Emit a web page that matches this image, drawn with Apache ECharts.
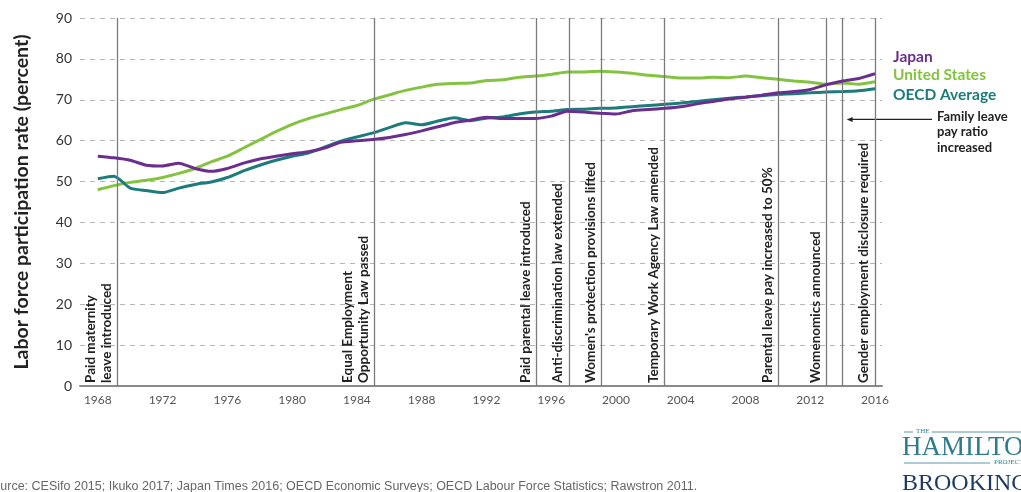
<!DOCTYPE html>
<html>
<head>
<meta charset="utf-8">
<script src="https://cdn.jsdelivr.net/npm/echarts@6/dist/echarts.min.js"></script>
<style>
html,body{margin:0;padding:0;background:#fff;}
#chart{width:1021px;height:492px;}
</style>
</head>
<body>
<div id="chart"></div>
<script>
const years = [];
for (let y = 1968; y <= 2016; y++) years.push(y);

const japan = [56.2,55.8,55.2,54.0,53.8,54.5,53.2,52.5,53.2,54.5,
  55.5,56.2,56.8,57.3,58.2,59.6,60.0,60.3,60.8,61.5,
  62.4,63.4,64.4,65.0,65.7,65.4,65.4,65.4,66.0,67.2,
  67.0,66.7,66.5,67.3,67.6,67.9,68.3,69.0,69.6,70.2,
  70.6,71.1,71.7,72.0,72.5,73.7,74.6,75.2,76.4];

const unitedStates = [48.0,49.0,49.8,50.3,51.0,52.0,53.2,54.8,56.2,58.2,
  60.2,62.2,64.0,65.4,66.5,67.6,68.6,70.1,71.2,72.3,
  73.1,73.8,74.0,74.1,74.7,74.9,75.5,75.8,76.2,76.8,
  76.8,77.0,76.8,76.5,76.0,75.7,75.3,75.3,75.5,75.4,
  75.8,75.4,75.0,74.6,74.3,73.8,74.1,73.8,74.4];

const oecdAverage = [50.7,51.3,48.4,47.8,47.3,48.4,49.3,49.9,51.0,52.6,
  54.0,55.2,56.2,57.0,58.4,59.9,60.9,61.9,63.2,64.4,
  63.9,64.8,65.6,64.9,65.5,65.8,66.5,67.0,67.2,67.6,
  67.7,67.9,68.0,68.3,68.6,68.9,69.2,69.6,70.0,70.4,
  70.7,71.0,71.3,71.5,71.7,71.9,72.0,72.2,72.7];

const xTickLabels = [1968,1972,1976,1980,1984,1988,1992,1996,2000,2004,2008,2012,2016];
const yTicks = [0,10,20,30,40,50,60,70,80,90];

const eventYears = [1969.2,1985.1,1995.1,1997.1,1999.1,2003,2010.05,2013,2014,2016];
const eventLabels = [
  'Paid maternity\nleave introduced',
  'Equal Employment\nOpportunity Law passed',
  'Paid parental leave introduced',
  'Anti-discrimination law extended',
  "Women's protection provisions lifted",
  'Temporary Work Agency Law amended',
  'Parental leave pay increased to 50%',
  'Womenomics announced',
  '',
  'Gender employment disclosure required'
];

const seriesNames = ['Japan','United States','OECD Average'];
const colors = {'Japan':'#6a2f8e','United States':'#84c340','OECD Average':'#1d7b7b'};
const annotationText = 'Family leave\npay ratio\nincreased';
const annotationYear = 2014;
const annotationValue = 65.2;
const sourceText = 'Source: CESifo 2015; Ikuko 2017; Japan Times 2016; OECD Economic Surveys; OECD Labour Force Statistics; Rawstron 2011.';

const FONT = 'Lato, "Noto Sans", sans-serif';

function pairs(vals){ return years.map((y,i)=>[y, vals[i]]); }

const chart = echarts.init(document.getElementById('chart'), null, {renderer:'canvas'});

const option = {
  backgroundColor:'#fff',
  animation:false,
  grid:{left:80, right:139, top:18, bottom:106},
  xAxis:{
    type:'value', min:1966.9, max:2016.43,
    axisLine:{show:true, lineStyle:{color:'#8a8a8a', width:2}},
    axisTick:{show:false},
    splitLine:{show:false},
    axisLabel:{customValues:xTickLabels, color:'#555', fontSize:12, fontFamily:FONT, margin:8, formatter:v=>String(v)}
  },
  yAxis:{
    type:'value', min:0, max:90, interval:10,
    name:'Labor force participation rate (percent)',
    nameLocation:'middle', nameGap:48,
    nameTextStyle:{fontSize:19.5, fontWeight:'bold', color:'#222', fontFamily:FONT},
    axisLine:{show:false}, axisTick:{show:false},
    axisLabel:{color:'#333', fontSize:14, fontFamily:FONT, margin:8},
    splitLine:{show:true, lineStyle:{color:'#b5b5b5', type:[5,5], width:1}}
  },
  series:[
    {
      name:'United States', type:'line', data:pairs(unitedStates), showSymbol:false, smooth:0.2,
      lineStyle:{color:colors['United States'], width:3}, itemStyle:{color:colors['United States']}, z:3,
      markLine:{
        silent:true, symbol:['none','none'], animation:false,
        lineStyle:{color:'#7a7a7a', width:1.3, type:'solid'},
        label:{show:true, position:'insideStartTop', distance:[3,3], color:'#222', fontSize:13.5, fontWeight:'bold', fontFamily:FONT, lineHeight:16,
          formatter:p=>p.name},
        data:eventYears.map((y,i)=>({xAxis:y, name:eventLabels[i]}))
      }
    },
    {
      name:'OECD Average', type:'line', data:pairs(oecdAverage), showSymbol:false, smooth:0.2,
      lineStyle:{color:colors['OECD Average'], width:3}, itemStyle:{color:colors['OECD Average']}, z:4
    },
    {
      name:'Japan', type:'line', data:pairs(japan), showSymbol:false, smooth:0.2,
      lineStyle:{color:colors['Japan'], width:3}, itemStyle:{color:colors['Japan']}, z:5
    }
  ]
};
chart.setOption(option);

const tip = chart.convertToPixel({gridIndex:0}, [annotationYear, annotationValue]);
const tipX = tip[0] + 4, tipY = tip[1];

chart.setOption({
  graphic:[
    {type:'text', left:893, top:49, style:{text:seriesNames[0], fill:colors['Japan'], font:'bold 15.5px '+FONT}},
    {type:'text', left:893, top:67, style:{text:seriesNames[1], fill:colors['United States'], font:'bold 15.5px '+FONT}},
    {type:'text', left:893, top:87, style:{text:seriesNames[2], fill:colors['OECD Average'], font:'bold 15.5px '+FONT}},
    {type:'text', left:937, top:109, style:{text:annotationText, fill:'#222', font:'bold 13px '+FONT, lineHeight:15.5}},
    {type:'line', shape:{x1:tipX+5, y1:tipY, x2:932, y2:tipY}, style:{stroke:'#222', lineWidth:1.2}},
    {type:'polygon', shape:{points:[[tipX,tipY],[tipX+6,tipY-2.5],[tipX+6,tipY+2.5]]}, style:{fill:'#222'}},
    {type:'text', left:-15, top:480, style:{text:sourceText, fill:'#666', font:'12.5px "Liberation Sans Narrow", "Liberation Sans", sans-serif'}},
    {type:'text', left:916, top:428, style:{text:'THE', fill:'#2e7d8c', font:'7px "Liberation Serif", serif'}},
    {type:'line', shape:{x1:904, y1:432, x2:913, y2:432}, style:{stroke:'#2e7d8c', lineWidth:0.8}},
    {type:'line', shape:{x1:932, y1:432, x2:1021, y2:432}, style:{stroke:'#2e7d8c', lineWidth:0.8}},
    {type:'text', left:902, top:434, style:{text:'HAMILTON', fill:'#2e7d8c', font:'27px "Liberation Serif", serif'}},
    {type:'text', left:994, top:459, style:{text:'PROJECT', fill:'#2e7d8c', font:'7px "Liberation Serif", serif'}},
    {type:'line', shape:{x1:904, y1:463, x2:990, y2:463}, style:{stroke:'#2e7d8c', lineWidth:0.8}},
    {type:'text', left:902, top:472, style:{text:'BROOKINGS', fill:'#1e3a5f', font:'24px "Liberation Serif", serif'}}
  ]
});
</script>
</body>
</html>
